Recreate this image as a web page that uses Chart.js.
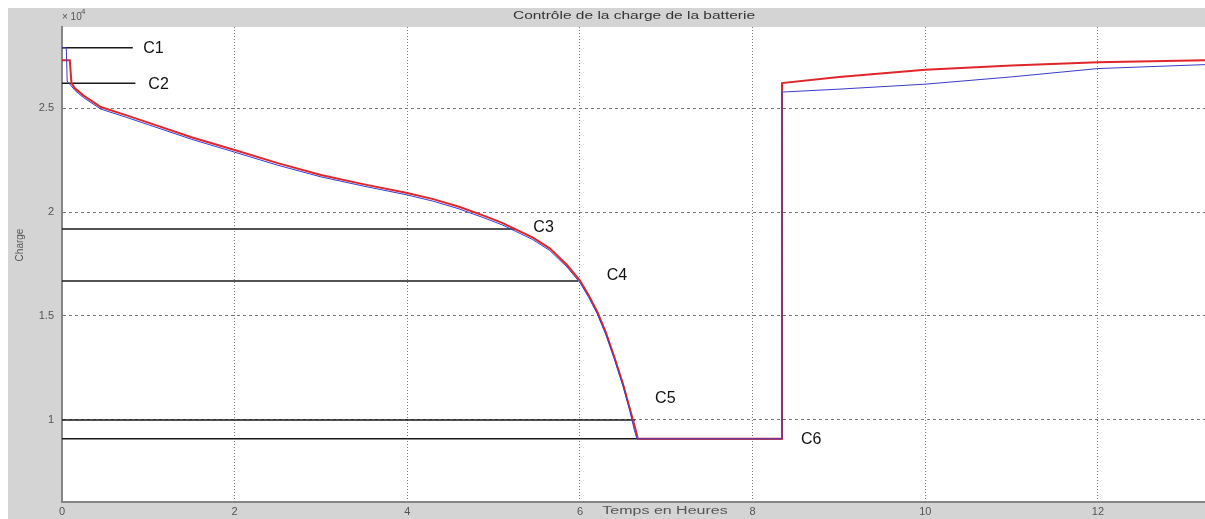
<!DOCTYPE html>
<html>
<head>
<meta charset="utf-8">
<script src="https://cdn.jsdelivr.net/npm/chart.js@4/dist/chart.umd.min.js"></script>
<style>
  body { margin: 0; background: #fff; }
  canvas { display: block; }
</style>
</head>
<body>
<canvas id="chart" width="1205" height="519"></canvas>
<script>

// ---------- data

const xTicks = [0, 2, 4, 6, 8, 10, 12]
const yTicks = [10000, 15000, 20000, 25000]

const redTime = [0, 0.09, 0.11, 0.15, 0.25, 0.45, 0.75, 1, 1.5, 2, 2.5, 3, 3.5, 4, 4.3, 4.6, 4.9, 5.1, 5.25, 5.45, 5.65, 5.85, 6, 6.1, 6.2, 6.3, 6.4, 6.5, 6.58, 6.64, 6.67, 8.34, 8.34, 9, 10, 11, 12, 13.3]
const redCharge = [27300, 27300, 26200, 25950, 25600, 25050, 24650, 24300, 23600, 22980, 22350, 21780, 21330, 20910, 20620, 20250, 19800, 19480, 19180, 18780, 18250, 17450, 16700, 16000, 15200, 14200, 13000, 11700, 10500, 9600, 9090, 9090, 26200, 26490, 26840, 27050, 27200, 27300]

const blueTime = [0, 0.05, 0.06, 0.15, 0.25, 0.45, 0.75, 1, 1.5, 2, 2.5, 3, 3.5, 4, 4.3, 4.6, 4.9, 5.1, 5.25, 5.45, 5.65, 5.85, 6, 6.1, 6.2, 6.3, 6.4, 6.5, 6.58, 6.63, 6.66, 8.34, 8.34, 9, 10, 11, 12, 13.3]
const blueCharge = [27900, 27900, 26300, 25850, 25500, 24950, 24550, 24200, 23500, 22880, 22250, 21690, 21240, 20820, 20520, 20150, 19700, 19380, 19080, 18680, 18150, 17350, 16600, 15900, 15100, 14100, 12900, 11600, 10400, 9500, 9090, 9090, 25770, 25910, 26150, 26500, 26900, 27100]

const levelNames = ["C1", "C2", "C3", "C4", "C5", "C6"]
const levelValues = [27900, 26200, 19180, 16680, 10000, 9090]
const levelEnds = [0.82, 0.85, 5.25, 5.98, 6.64, 8.34]
const labelX = [0.94, 1.0, 5.46, 6.31, 6.87, 8.56]
const labelY = [27885, 26150, 19230, 16920, 11010, 9040]


// ---------- datasets

const toPoints = (xs, ys) => xs.map((x, i) => ({ x, y: ys[i] }))

const levelSets = levelValues.map((v, i) => ({
  label: levelNames[i],
  data: [{ x: 0, y: v }, { x: levelEnds[i], y: v }],
  borderColor: "#1a1a1a",
  borderWidth: 1.5,
  order: 3
}))

const datasets = [
  ...levelSets,
  {
    label: "red",
    data: toPoints(redTime, redCharge),
    borderColor: "#e0262a",
    borderWidth: 2,
    order: 2
  },
  {
    label: "blue",
    data: toPoints(blueTime, blueCharge),
    borderColor: "#3c3cc8",
    borderWidth: 1,
    order: 1
  }
]


// ---------- frame, title and labels

// the picture is stretched sideways, so wide texts are drawn stretched too
function wideText(c, text, x, y, stretch) {
  c.save()
  c.translate(x, y)
  c.scale(stretch, 1)
  c.fillText(text, 0, 0)
  c.restore()
}

const decor = {
  id: "decor",

  beforeDraw(chart) {
    const c = chart.ctx
    const a = chart.chartArea
    c.save()
    c.fillStyle = "#ffffff"
    c.fillRect(0, 0, chart.width, chart.height)
    c.fillStyle = "#d4d4d4"
    c.fillRect(8, 8, chart.width - 8, chart.height - 8)
    c.fillStyle = "#ffffff"
    c.fillRect(a.left, a.top, a.right - a.left, a.bottom - a.top)
    c.restore()
  },

  afterDatasetsDraw(chart) {
    const c = chart.ctx
    const xs = chart.scales.x
    const ys = chart.scales.y
    c.save()
    c.fillStyle = "#111"
    c.font = "16px 'Liberation Sans', Arial, sans-serif"
    c.textBaseline = "middle"
    levelNames.forEach((n, i) => {
      c.fillText(n, xs.getPixelForValue(labelX[i]), ys.getPixelForValue(labelY[i]))
    })
    c.restore()
  },

  afterDraw(chart) {
    const c = chart.ctx
    c.save()
    c.fillStyle = "#333"
    c.textBaseline = "middle"

    c.font = "10px 'Liberation Sans', Arial, sans-serif"
    c.textAlign = "center"
    wideText(c, "Contrôle de la charge de la batterie", 634, 16, 1.55)

    c.fillStyle = "#555"
    wideText(c, "Temps en Heures", 665, 511, 1.6)

    c.textAlign = "left"
    c.fillText("× 10", 62, 17)
    c.font = "8px 'Liberation Sans', Arial, sans-serif"
    c.fillText("4", 81, 12)

    c.font = "10px 'Liberation Sans', Arial, sans-serif"
    c.translate(20, 245)
    c.rotate(-Math.PI / 2)
    c.textAlign = "center"
    c.fillText("Charge", 0, 0)
    c.restore()
  }
}


// ---------- chart

const tickFont = { family: "'Liberation Sans', Arial, sans-serif", size: 11 }

new Chart(document.getElementById("chart"), {
  type: "scatter",
  data: { datasets },
  plugins: [decor],
  options: {
    responsive: false,
    animation: false,
    showLine: true,
    elements: {
      point: { radius: 0, hoverRadius: 0 },
      line: { tension: 0 }
    },
    layout: { padding: { top: 27, left: 0, right: 0, bottom: 0 } },
    plugins: {
      legend: { display: false },
      tooltip: { enabled: false }
    },
    scales: {
      x: {
        type: "linear",
        min: 0,
        max: 13.24,
        afterBuildTicks: s => { s.ticks = xTicks.map(v => ({ value: v })) },
        afterFit: s => { s.height = 17 },
        ticks: { color: "#555", font: tickFont, padding: 3, maxRotation: 0 },
        grid: { color: "#7a7a7a", drawTicks: false },
        border: { color: "#858585", width: 2, dash: [1, 2] }
      },
      y: {
        type: "linear",
        min: 6050,
        max: 28900,
        afterBuildTicks: s => { s.ticks = yTicks.map(v => ({ value: v })) },
        afterFit: s => { s.width = 62 },
        ticks: { color: "#555", font: tickFont, padding: 8, callback: v => v / 10000 },
        grid: { color: "#7a7a7a", drawTicks: false },
        border: { color: "#858585", width: 2, dash: [3, 3] }
      }
    }
  }
})
</script>
</body>
</html>
